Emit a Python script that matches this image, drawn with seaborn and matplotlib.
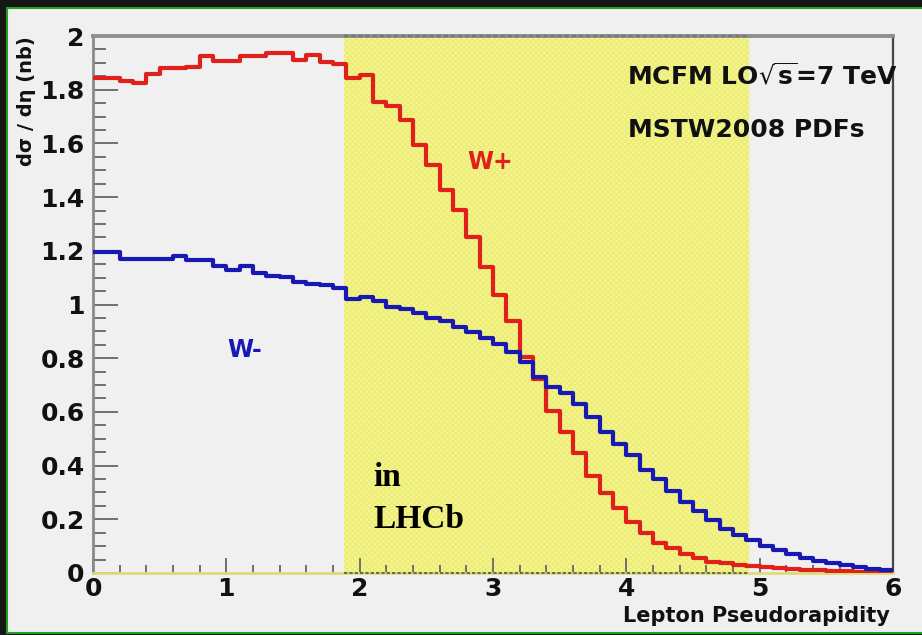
import numpy as np
import pandas as pd
import matplotlib
matplotlib.use("Agg")
import matplotlib.pyplot as plt
from matplotlib.patches import Rectangle
from matplotlib.ticker import MultipleLocator, FuncFormatter
import seaborn as sns

# ---------------- data ----------------
bin_width = 0.1
eta_edges = np.round(np.arange(0, 6.0 + bin_width / 2, bin_width), 2)  # 61 edges, 60 bins

w_plus = [1.844, 1.842, 1.834, 1.825, 1.860, 1.879, 1.881, 1.885, 1.925, 1.906,
          1.906, 1.927, 1.927, 1.935, 1.935, 1.912, 1.928, 1.902, 1.896, 1.844,
          1.853, 1.756, 1.741, 1.687, 1.594, 1.521, 1.425, 1.352, 1.252, 1.140,
          1.034, 0.937, 0.805, 0.724, 0.605, 0.524, 0.447, 0.361, 0.299, 0.243,
          0.189, 0.149, 0.111, 0.093, 0.071, 0.055, 0.042, 0.036, 0.031, 0.027,
          0.022, 0.018, 0.015, 0.012, 0.010, 0.008, 0.007, 0.005, 0.004, 0.003]

w_minus = [1.197, 1.197, 1.168, 1.171, 1.171, 1.168, 1.181, 1.164, 1.164, 1.143,
           1.128, 1.143, 1.118, 1.108, 1.102, 1.083, 1.077, 1.071, 1.062, 1.021,
           1.027, 1.012, 0.991, 0.985, 0.968, 0.949, 0.937, 0.918, 0.899, 0.877,
           0.852, 0.823, 0.784, 0.730, 0.693, 0.672, 0.630, 0.580, 0.524, 0.480,
           0.439, 0.384, 0.349, 0.305, 0.264, 0.230, 0.199, 0.164, 0.143, 0.124,
           0.101, 0.086, 0.070, 0.055, 0.045, 0.036, 0.029, 0.021, 0.016, 0.011]

series_names = ["W+", "W-"]
series_colors = {"W+": "#e0201a", "W-": "#1818b4"}
lhcb_range = (1.88, 4.92)

x_ticks = [0, 1, 2, 3, 4, 5, 6]
y_ticks = [0, 0.2, 0.4, 0.6, 0.8, 1.0, 1.2, 1.4, 1.6, 1.8, 2.0]

# long-form table for seaborn (steps-post needs the last value repeated at the last edge)
rows = []
for name, vals in zip(series_names, [w_plus, w_minus]):
    yv = list(vals) + [vals[-1]]
    for x, y in zip(eta_edges, yv):
        rows.append({"eta": x, "xsec": y, "series": name})
df = pd.DataFrame(rows)

# ---------------- figure ----------------
W, H = 922, 635
fig = plt.figure(figsize=(W / 100, H / 100), dpi=100)
fig.patch.set_facecolor("#161616")
bg = Rectangle((7 / W, 2 / H), 1.0, (633 - 8) / H, transform=fig.transFigure,
               facecolor="#f0f0f0", edgecolor="#22a022", linewidth=1.5, zorder=-10)
fig.add_artist(bg)

ax = fig.add_axes([93 / W, (H - 573) / H, 800 / W, (573 - 36) / H])
ax.set_facecolor("#f0f0f0")

# LHCb acceptance band
ax.axvspan(lhcb_range[0], lhcb_range[1], ymin=0, ymax=1, facecolor="#f6f68c",
           edgecolor="none", zorder=1)
ax.axvspan(lhcb_range[0], lhcb_range[1], ymin=0, ymax=1, facecolor="none",
           edgecolor="#ecec7a", hatch="xxxxxx", linewidth=0, zorder=1.1)

sns.lineplot(data=df, x="eta", y="xsec", hue="series", palette=series_colors,
             drawstyle="steps-post", estimator=None, sort=False, legend=False,
             linewidth=3.0, ax=ax, zorder=4)

ax.set_xlim(0, 6)
ax.set_ylim(0, 2)

# dashed edge marks where the band meets the frame
ax.plot(list(lhcb_range), [2, 2], color="#777777", lw=1.6, ls=(0, (2, 1.2)),
        clip_on=False, zorder=3)
ax.plot(list(lhcb_range), [0, 0], color="#555555", lw=1.2, ls=(0, (2, 1.2)),
        clip_on=False, zorder=3)

# spines
for s in ["left", "top", "right", "bottom"]:
    ax.spines[s].set_zorder(2.5)
ax.spines["left"].set_color("#8a8a8a")
ax.spines["left"].set_linewidth(2.0)
ax.spines["top"].set_color("#8f8f8f")
ax.spines["top"].set_linewidth(2.8)
ax.spines["right"].set_color("#444444")
ax.spines["right"].set_linewidth(1.6)
ax.spines["bottom"].set_color("#dcdc78")
ax.spines["bottom"].set_linewidth(2.0)

# ticks
ax.set_xticks(x_ticks)
ax.set_yticks(y_ticks)
ax.xaxis.set_minor_locator(MultipleLocator(0.2))
ax.yaxis.set_minor_locator(MultipleLocator(0.05))
ax.yaxis.set_major_formatter(FuncFormatter(lambda v, p: f"{v:g}"))
ax.xaxis.set_major_formatter(FuncFormatter(lambda v, p: f"{v:g}"))
ax.tick_params(axis="both", which="both", direction="in", color="#666666", width=1.3,
               top=False, right=False)
ax.tick_params(axis="y", which="major", length=18, pad=6)
ax.tick_params(axis="y", which="minor", length=9)
ax.tick_params(axis="x", which="major", length=11, pad=3)
ax.tick_params(axis="x", which="minor", length=6)
for lab in ax.get_xticklabels() + ax.get_yticklabels():
    lab.set_fontsize(18)
    lab.set_fontweight("bold")
    lab.set_family("DejaVu Sans")
    lab.set_color("#111111")

# axis labels
ax.set_ylabel("dσ / dη (nb)", fontsize=14, fontweight="bold", loc="top", color="#111111")
ax.yaxis.set_label_coords(-0.071, 1.0)
ax.set_xlabel("Lepton Pseudorapidity", fontsize=15, fontweight="bold", loc="right",
              color="#111111")
ax.xaxis.set_label_coords(0.996, -0.062)

# annotations
ax.text(4.006, 1.85, r"MCFM LO$\sqrt{\mathbf{s}}$=7 TeV", fontsize=18, fontweight="bold",
        ha="left", va="center", color="#111111", zorder=5)
ax.text(4.01, 1.651, "MSTW2008 PDFs", fontsize=18, fontweight="bold",
        ha="left", va="center", color="#111111", zorder=5)
ax.text(2.98, 1.531, "W+", fontsize=17, fontweight="bold", ha="center", va="center",
        color=series_colors["W+"], zorder=5)
ax.text(1.14, 0.829, "W-", fontsize=17, fontweight="bold", ha="center", va="center",
        color=series_colors["W-"], zorder=5)
ax.text(2.10, 0.356, "in", fontsize=24, fontweight="bold", family="Liberation Serif",
        ha="left", va="center", color="black", zorder=5)
ax.text(2.10, 0.199, "LHCb", fontsize=24, fontweight="bold", family="Liberation Serif",
        ha="left", va="center", color="black", zorder=5)

fig.savefig("out.png", dpi=100, facecolor=fig.get_facecolor())
